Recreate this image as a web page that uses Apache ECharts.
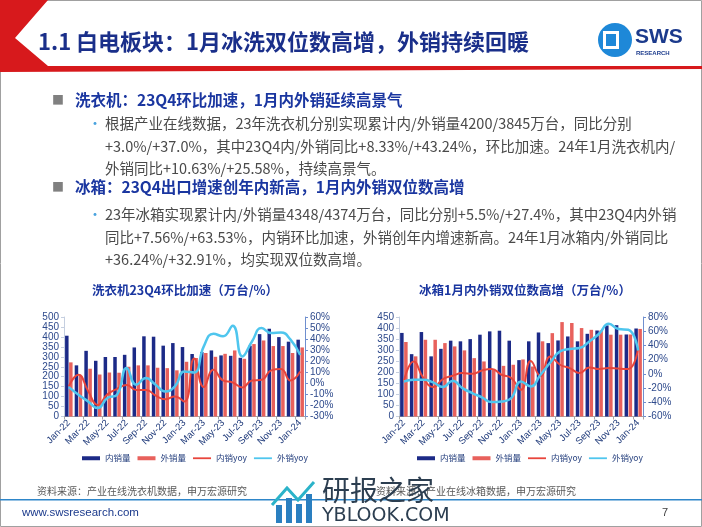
<!DOCTYPE html>
<html><head><meta charset="utf-8">
<script src="https://cdn.jsdelivr.net/npm/echarts@6/dist/echarts.min.js"></script>
<style>html,body{margin:0;padding:0;background:#fff}#c{width:702px;height:527px}</style>
</head><body><div id="c"></div>
<script>
const months = ['Jan-22','Feb-22','Mar-22','Apr-22','May-22','Jun-22','Jul-22','Aug-22','Sep-22','Oct-22','Nov-22','Dec-22',
  'Jan-23','Feb-23','Mar-23','Apr-23','May-23','Jun-23','Jul-23','Aug-23','Sep-23','Oct-23','Nov-23','Dec-23','Jan-24'];
// 洗衣机
const wmDom = [406,257,330,280,299,299,310,347,403,401,356,369,349,314,324,332,307,305,295,356,414,441,399,376,386];
const wmExp = [272,205,240,211,221,220,250,257,257,245,243,232,275,294,319,300,315,332,290,364,382,354,354,319,347];
const wmDomYoy = [-2.5,7.8,-7,-19.5,-10,-5,-1.5,-6,-6,-11,-14.5,-12,-16.5,22.5,-3.4,12.3,2.6,0.8,-3.7,2.6,3.2,11.7,12.9,2.6,10.6];
const wmExpYoy = [-3.4,-10.3,-16.4,-22.4,-13.3,-10.3,13.8,-1.3,4.8,-1.3,-7.3,-2.8,10.8,9.8,33.4,44.9,42.5,52.1,24.3,37.9,50,45.5,46,39.5,25.6];
// 冰箱
const frDom = [378,282,382,272,306,343,340,350,370,385,388,343,255,340,380,332,344,362,340,374,389,412,413,371,398];
const frExp = [337,272,347,347,332,317,299,264,249,210,229,234,258,226,340,377,427,423,400,392,389,370,370,371,396];
const frDomYoy = [-10.7,17.5,-5.9,-18.6,-7.3,-2.7,1.1,0.1,4.8,6.8,-1.3,-5.9,-22.4,18,-3,24.5,12.8,8.1,1.1,9,6.8,8.1,7.4,7,36.2];
const frExpYoy = [-10.7,-8.3,-8.3,-12,-18.6,-9.7,-20,-27,-33,-39.7,-38.8,-34,-10.7,-17.7,-1.3,16,31.6,35,36.3,45.6,56.5,70.6,63,62,32.9];

const seriesNames = ['内销量','外销量','内销yoy','外销yoy'];
const leftAxisTicks = {min:0,max:500,interval:50};
const leftPctTicks = {min:-30,max:60,interval:10};
const rightAxisTicks = {min:0,max:450,interval:50};
const rightPctTicks = {min:-60,max:80,interval:20};

const CJK = '"Noto Sans CJK SC","Noto Sans",sans-serif';
const NAVY = '#1c2a87', REDBAR = '#e8615c', REDLINE = '#e8453c', CYAN = '#4fc6ee';
const LBL = '#2e4a8c';
const PARA = '14.5px '+CJK, PCOL = '#4a4a4a';

function T(x,y,text,font,fill,align){
  return {type:'text',x:x,y:y,z:20,style:{text:text,font:font,fill:fill,align:align||'left',verticalAlign:'middle',textAlign:align||'left',textVerticalAlign:'middle'}};
}

const chart = echarts.init(document.getElementById('c'));

const graphics = [
  {type:'rect',shape:{x:0.5,y:0.5,width:701,height:526},style:{fill:'none',stroke:'#a0a0a0',lineWidth:1},z:1},
  {type:'polygon',shape:{points:[[0,0],[48,0],[15,38],[48,66],[702,66],[702,69],[0,72]]},style:{fill:'#d7191c'},z:2},
  T(38,42,'1.1 白电板块：1月冰洗双位数高增，外销持续回暖','bold 22px '+CJK,'#1a2f8a'),
  // logo
  {type:'circle',shape:{cx:615,cy:40,r:17},style:{fill:'#1e88d8'},z:5},
  {type:'rect',shape:{x:603,y:31,width:16,height:18},style:{fill:'#fff'},z:6},
  {type:'rect',shape:{x:606,y:34,width:10,height:12},style:{fill:'#1e88d8'},z:7},
  T(635,37,'SWS','bold 21px "Liberation Sans",Arial,sans-serif','#1b3a8c'),
  T(636,53,'RESEARCH','bold 6px "Liberation Sans",Arial,sans-serif','#1b3a8c'),
  // heading 1
  T(52,100,'■','12px '+CJK,'#808080'),
  T(75,100,'洗衣机：23Q4环比加速，1月内外销延续高景气','bold 15.5px '+CJK,'#1a36a0'),
  T(88,123,'•','14px '+CJK,'#4aa3df'),
  T(105,123,'根据产业在线数据，23年洗衣机分别实现累计内/外销量4200/3845万台，同比分别',PARA,PCOL),
  T(105,146,'+3.0%/+37.0%，其中23Q4内/外销同比+8.33%/+43.24%，环比加速。24年1月洗衣机内/',PARA,PCOL),
  T(105,168,'外销同比+10.63%/+25.58%，持续高景气。',PARA,PCOL),
  // heading 2
  T(52,187,'■','12px '+CJK,'#808080'),
  T(75,187,'冰箱：23Q4出口增速创年内新高，1月内外销双位数高增','bold 15.5px '+CJK,'#1a36a0'),
  T(88,214,'•','14px '+CJK,'#4aa3df'),
  T(105,214,'23年冰箱实现累计内/外销量4348/4374万台，同比分别+5.5%/+27.4%，其中23Q4内外销',PARA,PCOL),
  T(105,237,'同比+7.56%/+63.53%，内销环比加速，外销创年内增速新高。24年1月冰箱内/外销同比',PARA,PCOL),
  T(105,259,'+36.24%/+32.91%，均实现双位数高增。',PARA,PCOL),
  // chart titles
  T(185,290,'洗衣机23Q4环比加速（万台/%）','bold 12.5px '+CJK,'#1a36a0','center'),
  T(525,290,'冰箱1月内外销双位数高增（万台/%）','bold 12.5px '+CJK,'#1a36a0','center'),
  // footer
  T(37,491,'资料来源：产业在线洗衣机数据，申万宏源研究','10px '+CJK,'#595959'),
  T(376,491,'资料来源：产业在线冰箱数据，申万宏源研究','10px '+CJK,'#595959'),
  {type:'rect',shape:{x:0,y:499,width:702,height:1.5},style:{fill:'#2e86c9'},z:3},
  T(22,513,'www.swsresearch.com','11.5px "Liberation Sans",Arial,sans-serif','#1b3a8c'),
  T(662,513,'7','11px "Liberation Sans",Arial,sans-serif','#404040'),
  // watermark
  {type:'rect',shape:{x:276,y:505,width:6,height:18},style:{fill:'#2a7fc0'},z:30},
  {type:'rect',shape:{x:286,y:498,width:6,height:25},style:{fill:'#2a7fc0'},z:30},
  {type:'rect',shape:{x:296,y:504,width:6,height:19},style:{fill:'#2a7fc0'},z:30},
  {type:'rect',shape:{x:306,y:494,width:6,height:29},style:{fill:'#2a7fc0'},z:30},
  {type:'polyline',shape:{points:[[272,505],[287,488],[298,500],[314,482]]},style:{stroke:'#2bb3c9',lineWidth:3,fill:'none'},z:30},
  T(322,490,'研报之家','28px '+CJK,'#2c3e50'),
  T(322,516,'YBLOOK.COM','19px "DejaVu Sans",sans-serif','#2c3e50')
];

function xAxisCfg(gi){
  return {type:'category',gridIndex:gi,data:months,boundaryGap:true,
    axisLine:{lineStyle:{color:'#a6a6a6'}},axisTick:{show:true,interval:1,length:3,lineStyle:{color:'#a6a6a6'}},
    axisLabel:{interval:1,rotate:45,fontSize:9.5,color:'#1f3a7a',fontFamily:'"Liberation Sans",Arial,sans-serif',margin:5}};
}
function yAxisCfg(gi,ticks,pos,pct,lineColor){
  return {type:'value',gridIndex:gi,position:pos,min:ticks.min,max:ticks.max,interval:ticks.interval,
    splitLine:{show:false},
    axisLine:{show:true,lineStyle:{color:lineColor}},
    axisTick:{show:true,length:3,lineStyle:{color:lineColor}},
    axisLabel:{fontSize:10,color:LBL,fontFamily:'"Liberation Sans",Arial,sans-serif',margin:5,
      formatter:pct?(v=>v+'%'):(v=>v)}};
}
function barS(name,data,color,xi,yi){
  return {name:name,type:'bar',xAxisIndex:xi,yAxisIndex:yi,data:data,barWidth:3.5,barGap:'15%',itemStyle:{color:color},z:2};
}
function lineS(name,data,color,width,xi,yi){
  return {name:name,type:'line',xAxisIndex:xi,yAxisIndex:yi,data:data,smooth:0.5,symbol:'none',showSymbol:false,lineStyle:{color:color,width:width},itemStyle:{color:color},z:3};
}
const LINEICON = 'path://M0,0L20,0L20,2L0,2Z';
const legendBase = {top:454,padding:0,itemWidth:18,itemHeight:4,itemGap:7,
  textStyle:{color:'#1f3a7a',fontSize:8.5,fontFamily:CJK},
  data:[{name:seriesNames[0],icon:'rect'},{name:seriesNames[1],icon:'rect'},
        {name:seriesNames[2],icon:LINEICON},{name:seriesNames[3],icon:LINEICON}]};

chart.setOption({
  animation:false,
  textStyle:{fontFamily:CJK},
  graphic:graphics,
  legend:[Object.assign({left:82},legendBase),Object.assign({left:417},legendBase)],
  grid:[{left:64,top:317,width:241,height:99.5},{left:399,top:317,width:244,height:99.5}],
  xAxis:[xAxisCfg(0),xAxisCfg(1)],
  yAxis:[yAxisCfg(0,leftAxisTicks,'left',false,'#c5cfe0'),yAxisCfg(0,leftPctTicks,'right',true,'#6f8fcf'),
         yAxisCfg(1,rightAxisTicks,'left',false,'#c5cfe0'),yAxisCfg(1,rightPctTicks,'right',true,'#6f8fcf')],
  series:[
    barS(seriesNames[0],wmDom,NAVY,0,0),barS(seriesNames[1],wmExp,REDBAR,0,0),
    lineS(seriesNames[2],wmDomYoy,REDLINE,2,0,1),lineS(seriesNames[3],wmExpYoy,CYAN,2.5,0,1),
    barS(seriesNames[0],frDom,NAVY,1,2),barS(seriesNames[1],frExp,REDBAR,1,2),
    lineS(seriesNames[2],frDomYoy,REDLINE,2,1,3),lineS(seriesNames[3],frExpYoy,CYAN,2.5,1,3)
  ]
});
</script></body></html>
